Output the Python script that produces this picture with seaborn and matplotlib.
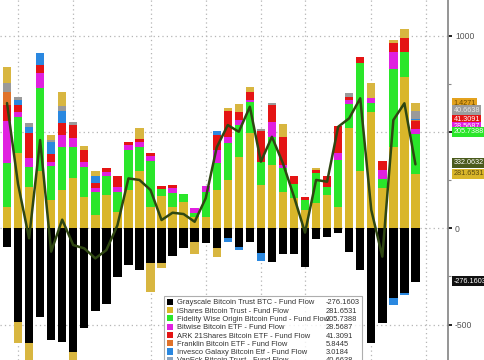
import numpy as np
import matplotlib
matplotlib.use("Agg")
import matplotlib.pyplot as plt
import matplotlib.transforms as mtransforms
import seaborn as sns
from matplotlib.patches import Patch

# ---------------- data ----------------
days = list(range(38))
grayscale = [-95, -484, -597, -458, -580, -588, -640, -515, -429, -394, -254, -190, -216, -182, -182, -144, -104, -73, -78, -104,
             -52, -95, -73, -130, -173, -133, -135, -199, -55, -43, -22, -121, -216, -597, -490, -363, -334, -276.1603]
ishares = [112, 389, 216, 300, 147, 199, 260, 161, 69, 173, 87, 199, 299, 112, 168, 112, 138, 61, 61, 199,
           251, 372, 493, 225, 329, 190, 156, 95, 130, 173, 112, 519, 300, 605, 208, 424, 787, 281.6531]
fidelity = [225, 190, 104, 427, 176, 225, 164, 159, 121, 99, 104, 208, 121, 239, 36, 73, 40, 21, 130, 138,
            190, 164, 164, 121, 147, 121, 74, 52, 156, 43, 242, 126, 560, 43, 47, 401, 130, 205.7388]
bitwise = [220, 26, 43, 78, 22, 61, 43, 26, 17, 22, 26, 26, 29, 24, 0, 22, 0, 22, 31, 69,
           35, 26, 10, 0, 78, 17, 0, 0, 0, 0, 35, 21, 0, 26, 48, 92, 0, 28.5687]
ark = [83, 35, 130, 43, 43, 61, 69, 61, 29, 17, 52, 17, 17, 14, 17, 17, 0, 0, 0, 78,
       135, 43, 43, 161, 87, 147, 42, 17, 17, 55, 142, 14, 31, 0, 48, 43, 69, 41.3091]
franklin = [69, 0, 0, 0, 0, 0, 0, 0, 0, 0, 0, 0, 0, 0, 0, 0, 0, 0, 0, 0,
            0, 0, 0, 0, 0, 0, 0, 0, 0, 0, 0, 0, 0, 0, 0, 0, 0, 5.8445]
invesco = [0, 26, 31, 61, 61, 61, 0, 0, 35, 0, 0, 0, 0, 0, 0, 0, 0, 0, 0, 22,
           -17, -17, 0, -38, 0, 0, 0, 0, 0, 0, 0, 0, 0, 0, 0, -35, -12, 3.0184]
vaneck = [44, 17, 21, 0, 9, 26, 17, 0, 0, 0, 0, 0, 0, 0, 0, 0, 0, 0, 0, 0,
          0, 0, 0, 9, 9, 0, 0, 0, 0, 0, 0, 21, 0, 0, 0, 0, 0, 40.6638]
valkyrie = [86, -109, -110, 0, 26, 73, -50, 21, 26, 0, 0, 0, 57, -147, -26, 0, 0, -61, 0, -43,
            12, 40, 21, 0, 0, 64, 0, 0, 12, 0, 0, 0, 0, 78, 0, 17, 47, 43]
net_flow = [650, 230, -52, 458, -121, 45, -87, -104, -156, -113, 15, 259, 251, 199, 43, 81, 74, 34, 156, 420,
            536, 501, 631, 346, 475, 337, 164, -22, 251, 242, 527, 571, 675, 95, -147, 562, 649, 332.0632]

legend_names = ["Grayscale Bitcoin Trust BTC - Fund Flow", "iShares Bitcoin Trust - Fund Flow",
                "Fidelity Wise Origin Bitcoin Fund - Fund Flow", "Bitwise Bitcoin ETF - Fund Flow",
                "ARK 21Shares Bitcoin ETF - Fund Flow", "Franklin Bitcoin ETF - Fund Flow",
                "Invesco Galaxy Bitcoin Etf - Fund Flow", "VanEck Bitcoin Trust - Fund Flow",
                "Valkyrie Bitcoin Fund - Fund Flow"]
legend_values = ["-276.1603", "281.6531", "205.7388", "28.5687", "41.3091", "5.8445", "3.0184", "40.6638", "1.4271"]
tag_texts = ["1.4271", "40.6638", "41.3091", "28.5687", "205.7388", "332.0632", "281.6531", "-276.1603"]
y_ticks = [-500, 0, 500, 1000]
grid_days = [1, 6, 13, 18, 23, 27, 33, 38]

# ---------------- style ----------------
C_BLACK = "#000000"
C_GOLD = "#d9b62a"
C_GREEN = "#2ae62a"
C_MAGENTA = "#e020e0"
C_RED = "#e41414"
C_ORANGE = "#e0722a"
C_BLUE = "#2a88e0"
C_GREY = "#9a9a9a"
C_TAN = "#d8b640"
C_LINE = "#2f4712"

sns.set_theme(style="white")
plt.rcParams["font.family"] = ["Liberation Sans", "DejaVu Sans"]

fig = plt.figure(figsize=(4.85, 3.6), dpi=100)
ax = fig.add_axes([0, 0, 448 / 485, 1])

W = 0.76
bar_kw = dict(width=W, saturation=1, errorbar=None, ax=ax, linewidth=0, zorder=2)

# positive stack (painter's order: tallest cumulative first)
pos_series = [ishares, fidelity, bitwise, ark, franklin, invesco, vaneck, valkyrie]
pos_colors = [C_GOLD, C_GREEN, C_MAGENTA, C_RED, C_ORANGE, C_BLUE, C_GREY, C_TAN]
pos_cum = np.cumsum([np.clip(np.array(s, float), 0, None) for s in pos_series], axis=0)
for k in reversed(range(len(pos_series))):
    sns.barplot(x=days, y=pos_cum[k], color=pos_colors[k], **bar_kw)

# negative stack
neg_series = [grayscale, invesco, valkyrie]
neg_colors = [C_BLACK, C_BLUE, C_TAN]
neg_cum = np.cumsum([np.clip(np.array(s, float), None, 0) for s in neg_series], axis=0)
for k in reversed(range(len(neg_series))):
    sns.barplot(x=days, y=neg_cum[k], color=neg_colors[k], **bar_kw)

sns.lineplot(x=days, y=net_flow, color=C_LINE, linewidth=1.8, ax=ax, zorder=3, legend=False)

ax.set_xlim(-0.634, 39.95)
ax.set_ylim(-683.5, 1185)
ax.set_xlabel("")
ax.set_ylabel("")

ax.set_xticks(grid_days)
ax.set_xticklabels([])
ax.tick_params(axis="x", length=0)
ax.yaxis.tick_right()
ax.set_yticks(y_ticks)
ax.set_yticklabels([str(v) for v in y_ticks])
ax.set_yticks([-250, 250, 750], minor=True)
ax.tick_params(axis="y", which="major", direction="out", length=3, width=1.4, color="#222222",
               labelsize=6.2, labelcolor="#555555", pad=2)
ax.tick_params(axis="y", which="minor", direction="out", length=2, width=0.8, color="#888888")
ax.grid(True, which="major", linestyle=(0, (1, 2.5)), color="#b5b5b5", linewidth=0.9)
ax.set_axisbelow(True)
for s in ["left", "top", "bottom"]:
    ax.spines[s].set_visible(False)
ax.spines["right"].set_color("#8c8c8c")
ax.spines["right"].set_linewidth(1.3)

# value tags at the right edge
tag_y = [650, 612, 564, 527, 501, 339, 282, -274]
tag_bg = ["#e3a21e", "#9c9c9c", "#e41414", "#e020e0", "#2ae62a", "#4a5a1c", "#d9b62a", "#111111"]
tag_fg = ["#6a4a00", "#e8e8e8", "#ffffff", "#ffffff", "#f0fff0", "#ffffff", "#5a4a10", "#ffffff"]
trans = mtransforms.blended_transform_factory(ax.transAxes, ax.transData)
for txt, yv, bg, fg in zip(tag_texts, tag_y, tag_bg, tag_fg):
    ax.text(1.012, yv, txt, transform=trans, fontsize=5.2, va="center", ha="left", color=fg,
            clip_on=False, zorder=5,
            bbox=dict(boxstyle="square,pad=0.22", fc=bg, ec="none"))

# legend with value column
colors_leg = [C_BLACK, C_GOLD, C_GREEN, C_MAGENTA, C_RED, C_ORANGE, C_BLUE, "#8aa4c0", C_TAN]
handles = [Patch(facecolor=c, edgecolor="none") for c in colors_leg]
handles += [Patch(facecolor="none", edgecolor="none") for _ in legend_values]
labels = legend_names + legend_values
leg = fig.legend(handles, labels, ncol=2, loc="upper left", bbox_to_anchor=(164 / 485, 1 - 296 / 360),
                 fontsize=5.4, frameon=True, fancybox=False, borderpad=0.35, labelspacing=0.08,
                 handlelength=0.9, handleheight=0.9, handletextpad=0.5, columnspacing=-1.9,
                 borderaxespad=0)
leg.get_frame().set_edgecolor("#9a9a9a")
leg.get_frame().set_linewidth(0.8)
for t in leg.get_texts():
    t.set_color("#333333")

fig.savefig("out.png", dpi=100)
